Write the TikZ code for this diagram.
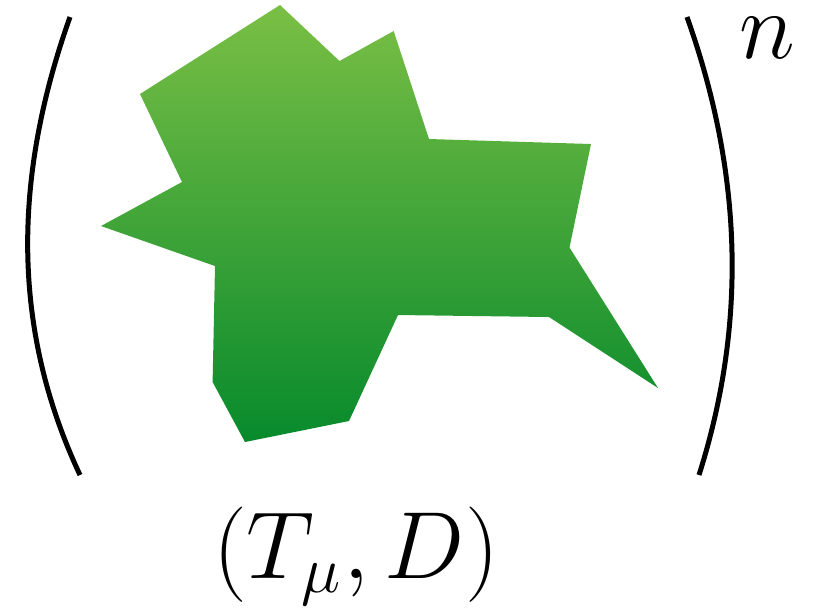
\documentclass[tikz,border=0pt]{standalone}
\usepackage{tikz}
\definecolor{leaftop}{HTML}{7ABF45}
\definecolor{leafbot}{HTML}{078A2C}

\begin{document}
\begin{tikzpicture}[x=0.25pt,y=-0.25pt,
  paren/.style={line width=1.25pt,line cap=butt},
  blob/.style={top color=leaftop,bottom color=leafbot,draw=none},
  mathlbl/.style={inner sep=0pt,font=\huge,scale=1.15}]
  \useasboundingbox (0,0) rectangle (825,615);
  % the tree shape
  \path[blob] (280,5) -- (339.5,61) -- (393.7,31) -- (429,139) -- (591,144)
    -- (569.5,247.5) -- (658,388) -- (549,317) -- (398,315) -- (349,421)
    -- (245,442) -- (212.6,382) -- (215,266) -- (101,226) -- (182,182)
    -- (140,94) -- cycle;
  % brackets round it
  \draw[paren] (70,17) .. controls (12,180) and (12,330) .. (80,475);
  \draw[paren] (687,17) .. controls (745,180) and (745,330) .. (699,475);
  \node[mathlbl] (pow) at (767,38) {$n$};
  \node[mathlbl] (pair) at (356,556) {$(T_\mu,D)$};
\end{tikzpicture}
\end{document}
